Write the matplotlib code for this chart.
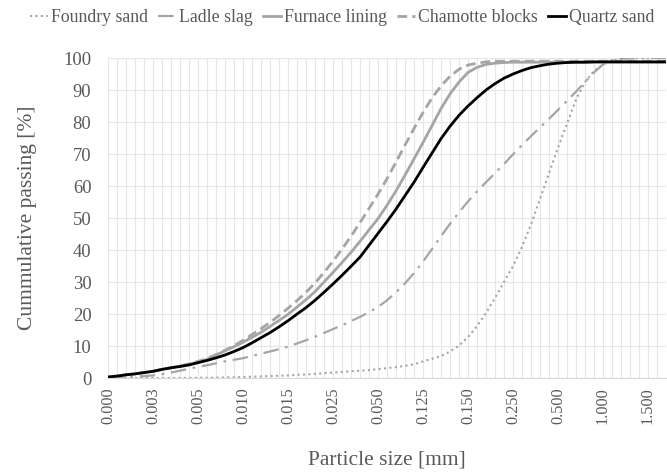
import matplotlib.pyplot as plt

# sieve categories (one per grid column), labelled every fifth
size_labels = ['0.000', '0.003', '0.005', '0.010', '0.015', '0.025', '0.050',
               '0.125', '0.150', '0.250', '0.500', '1.000', '1.500']
n_points = 63

foundry_sand = [0, 0, 0, 0, 0, 0, 0, 0, 0, 0,
                0.1, 0.1, 0.1, 0.2, 0.2, 0.3, 0.4, 0.5, 0.6, 0.7,
                0.8, 1.0, 1.1, 1.3, 1.5, 1.7, 1.9, 2.1, 2.3, 2.5,
                2.8, 3.1, 3.4, 3.8, 4.3, 5.2, 6.0, 6.9, 8.3, 10.1,
                12.8, 16.2, 20.3, 25.0, 30.0, 35.0, 41.0, 48.0, 56.0, 64.0,
                72.0, 79.5, 87.0, 92.5, 96.0, 98.0, 99.2, 99.8, 100, 100,
                100, 100, 100]
ladle_slag = [0, 0.1, 0.2, 0.4, 0.6, 0.8, 1.2, 1.7, 2.3, 2.9,
              3.5, 4.0, 4.6, 5.2, 5.7, 6.2, 6.9, 7.6, 8.3, 9.0,
              9.8, 10.8, 11.8, 12.9, 14.1, 15.3, 16.5, 17.8, 19.1, 20.6,
              22.2, 24.3, 26.8, 29.6, 32.8, 36.4, 40.3, 44.3, 48.2, 51.8,
              55.2, 58.3, 61.2, 64.0, 66.9, 69.9, 72.8, 75.6, 78.3, 81.0,
              83.8, 86.6, 89.5, 92.5, 95.5, 98.0, 99.3, 99.8, 99.9, 100,
              100, 100, 100]
furnace_lining = [0.3, 0.6, 1.0, 1.3, 1.7, 2.1, 2.7, 3.2, 3.7, 4.3,
                  5.0, 5.8, 7.2, 8.5, 9.8, 11.2, 12.7, 14.3, 16.1, 18.0,
                  19.9, 22.2, 24.5, 27.0, 30.0, 33.0, 36.1, 39.3, 42.7, 46.3,
                  49.8, 54.0, 58.5, 63.4, 68.5, 73.6, 78.9, 84.2, 88.8, 92.5,
                  95.5, 97.1, 98.0, 98.4, 98.6, 98.7, 98.7, 98.7, 98.7, 98.7,
                  98.7, 98.7, 98.7, 98.7, 98.7, 98.7, 98.7, 98.7, 98.7, 98.7,
                  98.7, 98.7, 98.7]
chamotte_blocks = [0.3, 0.6, 1.0, 1.3, 1.7, 2.1, 2.7, 3.2, 3.8, 4.4,
                   5.2, 6.1, 7.3, 8.7, 10.1, 11.8, 13.6, 15.4, 17.4, 19.5,
                   21.8, 24.2, 26.8, 29.7, 33.0, 36.5, 40.3, 44.3, 48.6, 53.0,
                   57.5, 62.3, 67.5, 72.8, 78.0, 83.0, 87.5, 91.3, 94.3, 96.5,
                   97.8, 98.4, 98.8, 99.0, 99.0, 99.0, 99.0, 99.0, 99.0, 99.0,
                   99.0, 99.0, 99.0, 99.0, 99.0, 99.0, 99.0, 99.0, 99.0, 99.0,
                   99.0, 99.0, 99.0]
quartz_sand = [0.3, 0.6, 1.0, 1.3, 1.7, 2.1, 2.7, 3.2, 3.6, 4.1,
               4.8, 5.5, 6.3, 7.2, 8.3, 9.5, 11.0, 12.6, 14.2, 16.0,
               17.9, 20.0, 22.0, 24.3, 26.8, 29.4, 32.1, 34.9, 37.8, 41.5,
               45.2, 48.9, 52.8, 57.0, 61.2, 65.8, 70.3, 74.8, 78.7, 82.1,
               85.0, 87.6, 90.0, 92.0, 93.7, 95.0, 96.1, 97.0, 97.6, 98.1,
               98.4, 98.6, 98.7, 98.7, 98.8, 98.8, 98.8, 98.8, 98.8, 98.8,
               98.8, 98.8, 98.8]

plt.rcParams['font.family'] = ['Liberation Serif', 'DejaVu Serif']
text_color = '#595959'
gray = '#a5a5a5'

fig = plt.figure(figsize=(6.67, 4.73), dpi=100)
ax = fig.add_axes([0.162, 0.2008, 0.8365, 0.6765])

x = list(range(n_points))
ax.plot(x, foundry_sand, color=gray, lw=1.5, linestyle=(0, (1, 1.6)), label='Foundry sand')
ax.plot(x, ladle_slag, color=gray, lw=1.6, linestyle=(0, (7, 3, 1.2, 3)), label='Ladle slag')
ax.plot(x, furnace_lining, color=gray, lw=2.0, label='Furnace lining')
ax.plot(x, chamotte_blocks, color=gray, lw=2.0, linestyle=(0, (3.5, 1.8)), label='Chamotte blocks')
ax.plot(x, quartz_sand, color='black', lw=2.0, label='Quartz sand')

ax.set_xlim(0, n_points - 1)
ax.set_ylim(0, 100)
ax.set_xticks(x, minor=True)
ax.set_xticks(range(0, n_points, 5))
ax.set_xticklabels(size_labels, rotation=90, fontsize=11.7, color=text_color)
ax.set_yticks(range(0, 101, 10))
ax.tick_params(axis='y', labelsize=13.4, labelcolor=text_color, length=0, pad=12)
ax.tick_params(axis='x', which='both', length=0, pad=7)
ax.grid(True, which='both', axis='x', color='#e6e6e6', lw=0.8)
ax.grid(True, which='major', axis='y', color='#e6e6e6', lw=0.8)
ax.set_axisbelow(True)
for side in ['top', 'right', 'left']:
    ax.spines[side].set_visible(False)
ax.spines['bottom'].set_color('#d9d9d9')

ax.set_xlabel('Particle size [mm]', fontsize=15.5, color=text_color, labelpad=19)
ax.set_ylabel('Cummulative passing [%]', fontsize=15.5, color=text_color)
ax.yaxis.set_label_coords(-0.128, 0.5)

fig.legend(loc='center', bbox_to_anchor=(0.513, 0.962), ncol=5, frameon=False,
           fontsize=12.8, handlelength=1.0, handletextpad=0.15, columnspacing=0.6,
           labelcolor=text_color, borderaxespad=0)

plt.savefig('out.png', dpi=100)
